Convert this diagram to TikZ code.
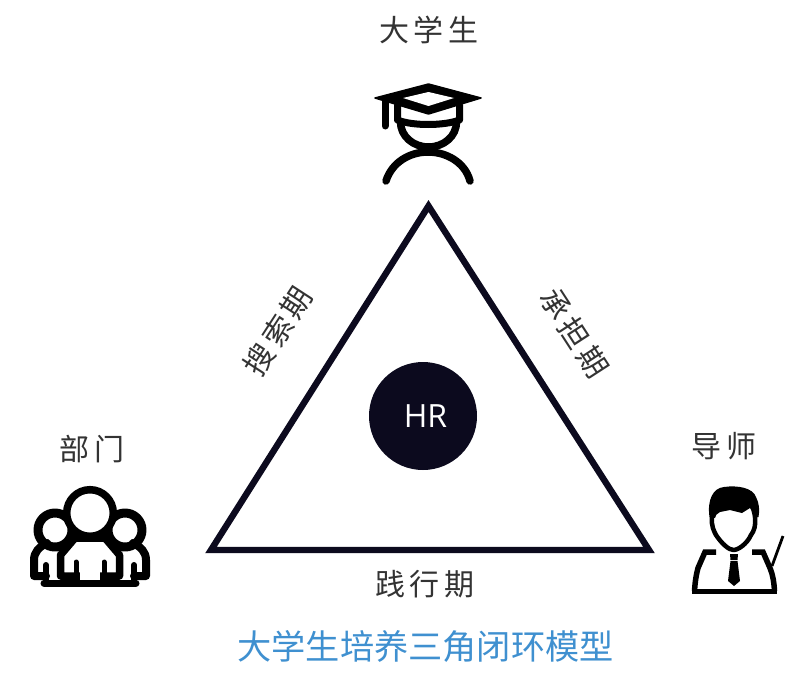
\documentclass[tikz,border=0pt]{standalone}
\usepackage{fontspec}
\setmainfont{Noto Sans CJK SC}
\newfontfamily\spaced[LetterSpace=14]{Noto Sans CJK SC}
\newfontfamily\latinf{Open Sans}
\definecolor{ink}{HTML}{0C0A1E}
\definecolor{lab}{HTML}{333333}
\definecolor{ttl}{HTML}{3F90D0}
\tikzset{
  x=1pt,y=-1pt,
  lbl/.style={font=\fontsize{30}{32}\selectfont\spaced,text=lab,inner sep=0pt},
  ico/.style={draw=black,line width=7.5pt,line cap=round,line join=round},
}
\begin{document}
\begin{tikzpicture}
\useasboundingbox (0,0) rectangle (800,685);
\fill[white] (0,0) rectangle (800,685);
% triangle
\coordinate (apex) at (428.5,206);
\coordinate (tl) at (211,550);
\coordinate (tr) at (649,550);
\draw[ink,line width=6.4pt,miter limit=10] (apex) -- (tl) -- (tr) -- cycle;
\node[circle,fill=ink,minimum size=108pt,inner sep=0pt,text=white,font=\fontsize{32}{34}\selectfont\latinf] (hr) at (423,416) {\hspace{5pt}HR};
% labels
\node[lbl] (student) at (429,30) {大学生};
\node[lbl] (dept) at (92,449) {部门};
\node[lbl] (mentor) at (724,446) {导师};
\node[lbl] (p3) at (425,584) {践行期};
\node[lbl,rotate=57] (p1) at (278,331) {搜索期};
\node[lbl,rotate=-57] (p2) at (574.5,333) {承担期};
\node[inner sep=0pt,text=ttl,font=\fontsize{34.2}{38}\selectfont] (title) at (425.5,646) {大学生培养三角闭环模型};
% student icon
\draw[ico,line width=7pt] (397.5,105) -- (397.5,120) .. controls (412,126) and (444,126) .. (459.5,120) -- (459.5,105);
\fill[black,line join=round,draw=black,line width=1.5pt] (428.5,84) -- (481,98) -- (428.5,114) -- (375,98) -- cycle;
\fill[white] (403,98) -- (428.5,92) -- (454,98) -- (428.5,106) -- cycle;
\draw[ico,line width=7pt] (385,100) -- (385,126);
\draw[ico] (400.5,122) .. controls (400.5,136) and (413,147) .. (428.5,147) .. controls (444,147) and (456.5,136) .. (456.5,122);
\draw[ico] (386,181) .. controls (392,162) and (410,152) .. (428,152) .. controls (446,152) and (465,162) .. (470,181);
% group icon: side figures behind
\draw[ico,line width=9pt] (55,530) circle (17);
\draw[ico,line width=9pt] (125,530) circle (17);
\draw[ico,line width=8pt] (47,543) .. controls (39,547) and (34,552) .. (34,560) -- (34,576) -- (46,576);
\draw[ico,line width=8pt] (133,543) .. controls (141,547) and (146,552) .. (146,560) -- (146,576) -- (134,576);
\draw[ico,line width=6pt] (46,565) -- (46,580);
\draw[ico,line width=6pt] (134,565) -- (134,580);
% group icon: centre figure in front
\draw[ico,fill=white] (75,538) -- (60.5,555) -- (60.5,576) -- (76,576) -- (104,576) -- (119.5,576) -- (119.5,555) -- (105,538) -- cycle;
\draw[ico,white,line width=9pt,line cap=butt] (80,576) -- (100,576);
\draw[ico,fill=white,line width=7.5pt] (90,513) circle (23.3);
\draw[ico,line width=5pt] (76,562) -- (76,576);
\draw[ico,line width=5pt] (104,562) -- (104,576);
\draw[ico,line width=7pt] (44,583) -- (136,583);
% mentor icon
\fill[black] (709.5,517) .. controls (707,500) and (713,488) .. (724,487) .. controls (738,485) and (753,488) .. (756,497) .. controls (759,503) and (760,510) .. (758.5,517) -- (753,518) .. controls (752,512) and (751,509) .. (750,508) -- (742,513) -- (730,510) -- (720,512) .. controls (717,513) and (715,516) .. (715,518) -- cycle;
\draw[line width=4.5pt,line cap=round,line join=round,black] (712,517) .. controls (711,526) and (714,531) .. (716,535) .. controls (722,544) and (729,550) .. (733.5,550) .. controls (738,550) and (747,544) .. (751,535) .. controls (754,531) and (756,526) .. (755,517);
\draw[line width=5.5pt,line cap=butt,line join=miter,black] (716,552) -- (705,552) -- (698,568) .. controls (696,575) and (695,583) .. (694.5,591);
\draw[line width=5.5pt,line cap=butt,line join=miter,black] (752,552) -- (763,552) -- (770,568) .. controls (773,575) and (774,583) .. (774.5,591);
\draw[line width=4.5pt,line cap=butt,black] (692,591.5) -- (777,591.5);
\draw[line width=2.8pt,black] (783,536) -- (772,566);
\fill[black] (730,554) -- (738,554) -- (737.5,560) -- (730.5,560) -- cycle;
\fill[black] (730.5,561) -- (737.5,561) -- (740,581) -- (734,586) -- (728,581) -- cycle;
\end{tikzpicture}
\end{document}
